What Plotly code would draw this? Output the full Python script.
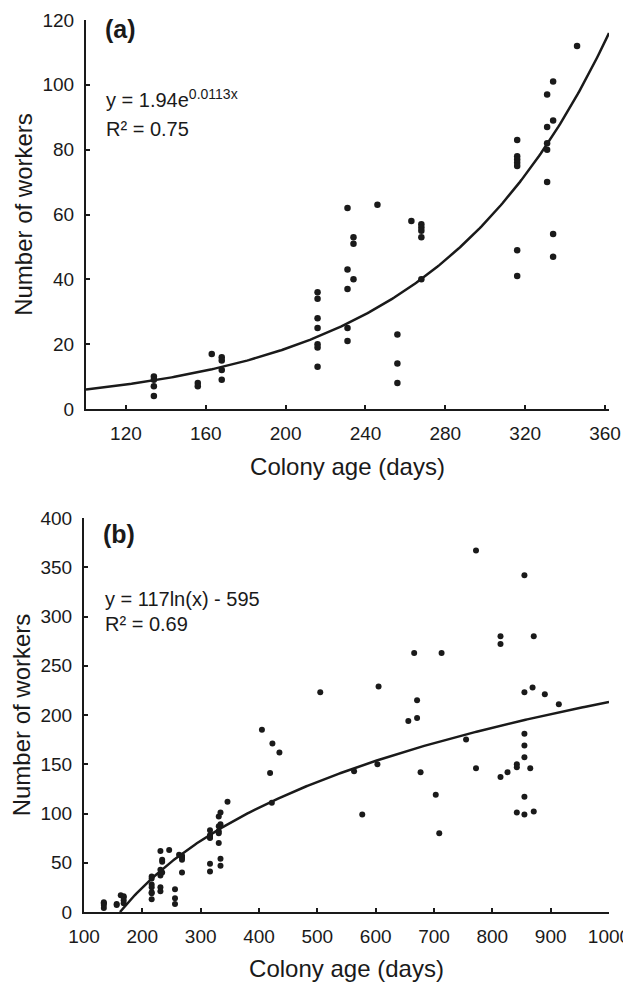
import numpy as np
import plotly.graph_objects as go

# ---------------- Data ----------------
# Panel (a): colony age (days) vs number of workers
a_age = [134, 134, 134, 134, 156, 156, 163, 168, 168, 168, 168,
         216, 216, 216, 216, 216, 216, 216, 231, 231, 231, 231, 231,
         234, 234, 234, 246, 256, 256, 256, 263, 268, 268, 268, 268, 268,
         316, 316, 316, 316, 316, 316, 316, 331, 331, 331, 331, 331,
         334, 334, 334, 334, 346]
a_workers = [10, 9, 7, 4, 8, 7, 17, 16, 15, 12, 9,
             36, 34, 28, 25, 20, 19, 13, 62, 43, 37, 25, 21,
             53, 51, 40, 63, 23, 14, 8, 58, 57, 56, 55, 53, 40,
             83, 78, 77, 76, 75, 49, 41, 97, 87, 82, 80, 70,
             101, 89, 54, 47, 112]

# Panel (b): additional, older colonies
b_extra_age = [405, 419, 422, 423, 435, 505, 563, 577, 603, 605, 656, 666,
               671, 671, 677, 703, 709, 713, 755, 772, 772, 814, 814, 814,
               826, 842, 842, 842, 855, 855, 855, 855, 855, 855, 855, 865,
               869, 871, 871, 890, 914]
b_extra_workers = [185, 141, 111, 171, 162, 223, 143, 99, 150, 229, 194, 263,
                   215, 197, 142, 119, 80, 263, 175, 367, 146, 280, 272, 137,
                   142, 150, 147, 101, 342, 223, 181, 169, 157, 117, 99, 146,
                   228, 280, 102, 221, 211]

b_age = a_age + b_extra_age
b_workers = a_workers + b_extra_workers

# Fitted trend lines (as printed on the chart)
exp_a, exp_b = 1.94, 0.0113        # y = 1.94 e^(0.0113x)
log_a, log_b = 117.0, -595.0       # y = 117 ln(x) - 595

a_xticks = [120, 160, 200, 240, 280, 320, 360]
a_yticks = [0, 20, 40, 60, 80, 100, 120]
b_xticks = [100, 200, 300, 400, 500, 600, 700, 800, 900, 1000]
b_yticks = [0, 50, 100, 150, 200, 250, 300, 350, 400]

# ---------------- Figure ----------------
W, H = 623, 982
FONT = "Liberation Sans, Arial, Helvetica, sans-serif"
INK = "#1a1a1a"

def px_x(p):
    return p / W

def px_y(p):
    return 1 - p / H

fig = go.Figure()

# Panel (a)
xa = np.linspace(100, 362, 300)
fig.add_trace(go.Scatter(x=xa, y=exp_a * np.exp(exp_b * xa), mode="lines",
                         line=dict(color=INK, width=2.5), xaxis="x", yaxis="y",
                         hoverinfo="skip"))
fig.add_trace(go.Scatter(x=a_age, y=a_workers, mode="markers",
                         marker=dict(color=INK, size=6.5), xaxis="x", yaxis="y"))

# Panel (b)
x0 = np.exp(-log_b / log_a)
xb = np.linspace(x0, 1000, 300)
fig.add_trace(go.Scatter(x=xb, y=log_a * np.log(xb) + log_b, mode="lines",
                         line=dict(color=INK, width=2.5), xaxis="x2", yaxis="y2",
                         hoverinfo="skip"))
fig.add_trace(go.Scatter(x=b_age, y=b_workers, mode="markers",
                         marker=dict(color=INK, size=6), xaxis="x2", yaxis="y2"))

axis_common = dict(showline=True, linecolor=INK, linewidth=2, ticks="inside",
                   ticklen=4, tickwidth=1.5, tickcolor=INK, showgrid=False,
                   zeroline=False, automargin=False, ticklabeloverflow="allow",
                   tickfont=dict(family=FONT, size=19, color=INK))
title_font = dict(family=FONT, size=24, color=INK)

fig.update_layout(
    template="none",
    width=W, height=H,
    margin=dict(l=0, r=0, t=0, b=0, pad=0),
    paper_bgcolor="white", plot_bgcolor="white",
    showlegend=False,
    font=dict(family=FONT, color=INK),
    xaxis=dict(domain=[px_x(86), px_x(609)], range=[100, 362], tickvals=a_xticks,
               anchor="y", title=dict(text="Colony age (days)", font=title_font, standoff=15),
               ticklabelstandoff=6, **axis_common),
    yaxis=dict(domain=[px_y(409), px_y(20)], range=[0, 120], tickvals=a_yticks,
               anchor="x", title=dict(text="Number of workers", font=title_font, standoff=3),
               ticklabelstandoff=6, **axis_common),
    xaxis2=dict(domain=[px_x(84), px_x(609)], range=[100, 1000], tickvals=b_xticks,
                anchor="y2", title=dict(text="Colony age (days)", font=title_font, standoff=14),
                ticklabelstandoff=6, **axis_common),
    yaxis2=dict(domain=[px_y(912), px_y(518)], range=[0, 400], tickvals=b_yticks,
                anchor="x2", title=dict(text="Number of workers", font=title_font, standoff=3),
                ticklabelstandoff=6, **axis_common),
)

def label(text, x, y, size, bold=False):
    fig.add_annotation(text=f"<b>{text}</b>" if bold else text,
                       x=px_x(x), y=px_y(y), xref="paper", yref="paper",
                       xanchor="left", yanchor="middle", showarrow=False,
                       font=dict(family=FONT, size=size, color=INK))

label("(a)", 103, 29, 25, bold=True)
label("y = 1.94e<sup>0.0113x</sup>", 104, 98, 20)
label("R² = 0.75", 104, 129, 20)

label("(b)", 101, 534, 25, bold=True)
label("y = 117ln(x) - 595", 103, 599, 20)
label("R² = 0.69", 103, 624, 20)

# remove the browser's default page margin so the figure sits at the window's corner
fig.write_html("out.html",
               config={"displayModeBar": False},
               post_script="document.body.style.margin='0';document.body.style.overflow='hidden';")
